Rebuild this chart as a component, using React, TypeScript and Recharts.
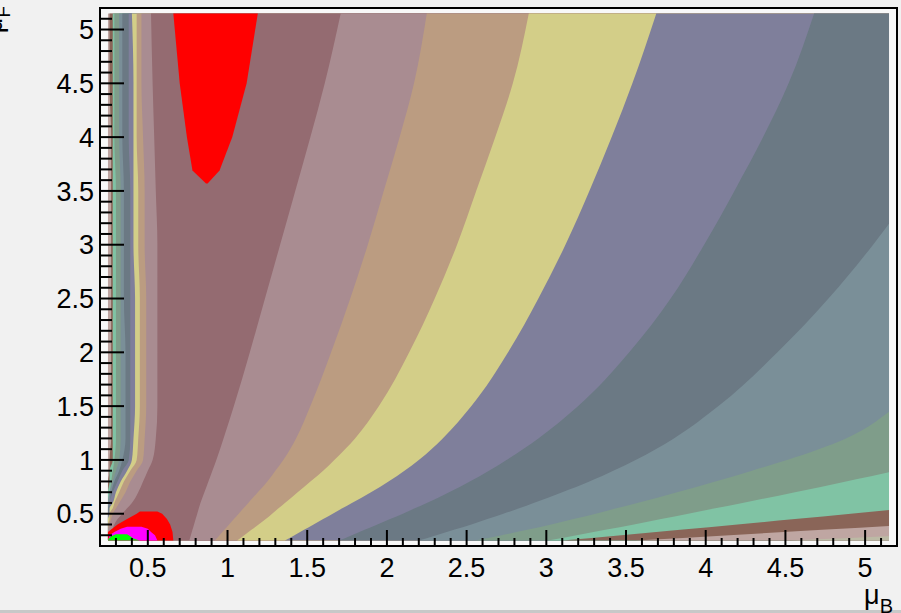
import { ComposedChart, Area, XAxis, YAxis, CartesianGrid, ReferenceArea } from "recharts";

// contour level heights (mu_F) at which the band edges were read
const yLevels = [0.25, 0.3, 0.35, 0.4, 0.45, 0.5, 0.55, 0.6, 0.7, 0.8, 0.9, 1.0, 1.2, 1.5, 2.0, 2.5, 3.0, 3.5, 4.0, 4.5, 5.15];

// edges hugging the left wall (outermost first)
const left10 = [0.25, 0.25, 0.25, 0.25, 0.25, 0.25, 0.25, 0.25, 0.25, 0.25, 0.26, 0.26, 0.27, 0.27, 0.27, 0.27, 0.27, 0.27, 0.27, 0.26, 0.26];
const left9 = [0.25, 0.25, 0.25, 0.25, 0.25, 0.25, 0.25, 0.25, 0.25, 0.26, 0.26, 0.28, 0.28, 0.28, 0.28, 0.28, 0.28, 0.28, 0.28, 0.28, 0.28];
const left8 = [0.25, 0.25, 0.25, 0.25, 0.25, 0.25, 0.25, 0.25, 0.26, 0.27, 0.28, 0.29, 0.3, 0.3, 0.3, 0.3, 0.3, 0.3, 0.29, 0.29, 0.29];
const left7 = [0.25, 0.25, 0.25, 0.25, 0.25, 0.25, 0.25, 0.25, 0.26, 0.28, 0.3, 0.32, 0.33, 0.33, 0.33, 0.33, 0.33, 0.33, 0.32, 0.32, 0.32];
const left6 = [0.25, 0.25, 0.25, 0.25, 0.25, 0.25, 0.25, 0.26, 0.27, 0.29, 0.32, 0.34, 0.36, 0.36, 0.36, 0.35, 0.35, 0.35, 0.34, 0.34, 0.34];
const left5 = [0.25, 0.25, 0.25, 0.25, 0.25, 0.25, 0.26, 0.26, 0.28, 0.31, 0.34, 0.38, 0.39, 0.39, 0.39, 0.39, 0.39, 0.39, 0.38, 0.38, 0.38];
const left4 = [0.25, 0.25, 0.25, 0.25, 0.25, 0.26, 0.26, 0.28, 0.3, 0.33, 0.37, 0.4, 0.41, 0.42, 0.42, 0.42, 0.41, 0.41, 0.41, 0.41, 0.4];
const left3 = [0.25, 0.25, 0.25, 0.25, 0.26, 0.26, 0.28, 0.29, 0.32, 0.35, 0.39, 0.43, 0.44, 0.45, 0.45, 0.45, 0.44, 0.44, 0.43, 0.43, 0.43];
const left2 = [0.25, 0.25, 0.25, 0.26, 0.27, 0.28, 0.3, 0.32, 0.36, 0.39, 0.43, 0.47, 0.48, 0.49, 0.49, 0.49, 0.48, 0.48, 0.47, 0.46, 0.46];
const left1 = [0.28, 0.28, 0.28, 0.29, 0.31, 0.34, 0.37, 0.4, 0.44, 0.47, 0.5, 0.53, 0.55, 0.56, 0.56, 0.56, 0.56, 0.55, 0.54, 0.53, 0.52];

// edges fanning out to the right (values past 5.15 run off the frame)
const right1 = [0.76, 0.77, 0.78, 0.79, 0.8, 0.81, 0.82, 0.83, 0.855, 0.88, 0.905, 0.93, 0.975, 1.04, 1.14, 1.235, 1.33, 1.425, 1.52, 1.61, 1.71];
const right2 = [0.92, 0.95, 0.98, 1.01, 1.04, 1.07, 1.1, 1.13, 1.19, 1.25, 1.3, 1.35, 1.43, 1.52, 1.65, 1.77, 1.88, 1.98, 2.08, 2.17, 2.25];
const right3 = [1.06, 1.105, 1.15, 1.195, 1.24, 1.28, 1.32, 1.36, 1.44, 1.52, 1.6, 1.67, 1.8, 1.95, 2.14, 2.3, 2.44, 2.56, 2.68, 2.79, 2.89];
const right4 = [1.36, 1.42, 1.48, 1.54, 1.6, 1.66, 1.72, 1.78, 1.9, 2.01, 2.11, 2.2, 2.35, 2.53, 2.76, 2.95, 3.12, 3.27, 3.41, 3.54, 3.69];
const right5 = [1.7, 1.78, 1.86, 1.94, 2.02, 2.1, 2.175, 2.25, 2.39, 2.52, 2.64, 2.75, 2.95, 3.2, 3.52, 3.78, 3.99, 4.18, 4.36, 4.52, 4.68];
const right6 = [2.2, 2.31, 2.42, 2.53, 2.63, 2.73, 2.83, 2.92, 3.1, 3.27, 3.42, 3.56, 3.8, 4.08, 4.45, 4.77, 5.05, 5.3, 5.53, 5.75, 6.0];
const right7 = [2.55, 2.72, 2.88, 3.03, 3.17, 3.31, 3.44, 3.57, 3.82, 4.06, 4.29, 4.51, 4.88, 5.2, 5.6, 5.95, 6.25, 6.5, 6.75, 7.0, 7.3];
const right8 = [3.01, 3.19, 3.37, 3.55, 3.72, 3.89, 4.06, 4.23, 4.56, 4.88, 5.19, 5.48, 5.98, 6.5, 7.2, 7.8, 8.3, 8.8, 9.2, 9.6, 10.0];
const right9 = [3.1, 3.47, 3.84, 4.2, 4.56, 4.91, 5.26, 5.6, 6.25, 6.9, 7.5, 8.1, 9.2, 10.5, 12, 13, 14, 15, 16, 17, 18];
const right10 = [3.56, 4.15, 4.73, 5.3, 5.85, 6.4, 6.9, 7.4, 8.4, 9.3, 10.2, 11, 12.5, 14.5, 17, 19, 21, 23, 25, 27, 29];
const right11 = [4.53, 5.28, 6.0, 6.7, 7.4, 8.1, 8.8, 9.5, 10.8, 12, 13.2, 14.4, 16.5, 19, 22, 25, 28, 30, 32, 34, 36];

// closed islands
const peakY = [3.57, 3.69, 4.0, 4.5, 5.15];
const peakLeft = [0.865, 0.78, 0.745, 0.7, 0.66];
const peakRight = [0.875, 0.95, 1.03, 1.12, 1.19];

const cornerY = [0.25, 0.33, 0.4, 0.45, 0.5, 0.52];
const cornerLeft = [0.25, 0.25, 0.31, 0.37, 0.43, 0.45];
const cornerRight = [0.66, 0.655, 0.64, 0.62, 0.59, 0.56];

const magY = [0.25, 0.3, 0.33, 0.36, 0.38];
const magLeft = [0.25, 0.26, 0.29, 0.33, 0.37];
const magRight = [0.56, 0.545, 0.52, 0.5, 0.46];

const grnY = [0.25, 0.27, 0.29, 0.31];
const grnLeft = [0.25, 0.255, 0.27, 0.3];
const grnRight = [0.45, 0.41, 0.39, 0.37];

const axisTicks = Array.from({ length: 51 }, (_, i) => Math.round((0.2 + i * 0.1) * 10) / 10);
const tickLabels = ["0.5", "1", "1.5", "2", "2.5", "3", "3.5", "4", "4.5", "5"];

const X_MIN = 0.25;
const X_MAX = 5.15;
const X_FAR = 40;

const col = {
  darkMauve: "#946b71",
  lightMauve: "#a98c91",
  tan: "#bb9c81",
  yellow: "#d3ce88",
  bluePurple: "#7f7f9b",
  slate: "#6b7984",
  blueGrey: "#7a8f98",
  greenGrey: "#7f9d8a",
  mint: "#80c3a4",
  brown: "#8a6558",
  lightPink: "#bfa6a2",
  beige: "#bcbaa5",
};

const wall = yLevels.map(() => X_MIN);

// painted left to right, each band covers everything right of its edge
const bands = [
  { key: "b0", edge: wall, color: col.lightPink },
  { key: "b1", edge: left10, color: col.brown },
  { key: "b2", edge: left9, color: col.mint },
  { key: "b3", edge: left8, color: col.greenGrey },
  { key: "b4", edge: left7, color: col.blueGrey },
  { key: "b5", edge: left6, color: col.slate },
  { key: "b6", edge: left5, color: col.bluePurple },
  { key: "b7", edge: left4, color: col.yellow },
  { key: "b8", edge: left3, color: col.tan },
  { key: "b9", edge: left2, color: col.lightMauve },
  { key: "b10", edge: left1, color: col.darkMauve },
  { key: "b11", edge: right1, color: col.lightMauve },
  { key: "b12", edge: right2, color: col.tan },
  { key: "b13", edge: right3, color: col.yellow },
  { key: "b14", edge: right4, color: col.bluePurple },
  { key: "b15", edge: right5, color: col.slate },
  { key: "b16", edge: right6, color: col.blueGrey },
  { key: "b17", edge: right7, color: col.greenGrey },
  { key: "b18", edge: right8, color: col.mint },
  { key: "b19", edge: right9, color: col.brown },
  { key: "b20", edge: right10, color: col.lightPink },
  { key: "b21", edge: right11, color: col.beige },
];

const data = yLevels.map((y, i) => {
  const row: any = { y };
  bands.forEach((b) => {
    row[b.key] = [b.edge[i], X_FAR];
  });
  return row;
});

const island = (ys: number[], lo: number[], hi: number[]) =>
  ys.map((y, i) => ({ y, v: [lo[i], hi[i]] }));

const peakData = island(peakY, peakLeft, peakRight);
const cornerData = island(cornerY, cornerLeft, cornerRight);
const magData = island(magY, magLeft, magRight);
const grnData = island(grnY, grnLeft, grnRight);

const FONT = "Liberation Sans, Arial, sans-serif";
const PAD_BG = "#f8f8f8";

const isMajor = (v: number) => Math.round(v * 10) % 5 === 0;

const YTick = (props: any) => {
  const { x, y, payload } = props;
  const v = payload.value;
  const major = isMajor(v);
  return (
    <g>
      <line x1={x} x2={x + (major ? 24 : 12)} y1={y} y2={y} stroke="#000" strokeWidth={2} />
      {major && (
        <text x={x - 6} y={y} dy="0.36em" textAnchor="end" fontSize={27} fontFamily={FONT} fill="#000">
          {tickLabels[Math.round(v * 2) - 1]}
        </text>
      )}
    </g>
  );
};

const XTick = (props: any) => {
  const { x, y, payload } = props;
  const v = payload.value;
  const major = isMajor(v);
  return (
    <g>
      <line x1={x} x2={x} y1={y} y2={y - (major ? 16 : 8)} stroke="#000" strokeWidth={2} />
      {major && (
        <text x={x} y={y + 31} textAnchor="middle" fontSize={27} fontFamily={FONT} fill="#000">
          {tickLabels[Math.round(v * 2) - 1]}
        </text>
      )}
    </g>
  );
};

const XTitle = (props: any) => {
  const vb = props.viewBox || { x: 100, width: 797 };
  return (
    <text x={vb.x + vb.width - 4} y={604} textAnchor="end" fontSize={27} fontFamily={FONT} fill="#000">
      {"\u03bc"}
      <tspan dy={9} fontSize={20}>B</tspan>
    </text>
  );
};

const YTitle = () => (
  <text transform="translate(2,6) rotate(-90)" textAnchor="end" fontSize={27} fontFamily={FONT} fill="#000">
    {"\u03bc"}
    <tspan dy={8} fontSize={19}>F</tspan>
  </text>
);

export default function App() {
  return (
    <div style={{ position: "absolute", left: 0, top: 0, width: 901, height: 613, background: "#f1f1f1", fontFamily: FONT }}>
      <div style={{ position: "absolute", left: 0, top: 610, width: 901, height: 3, background: "#c8c8c8" }} />
      <div style={{ position: "absolute", left: 0, top: 0 }}>
        <ComposedChart
          width={901}
          height={613}
          data={data}
          layout="vertical"
          margin={{ top: 8, right: 4, bottom: 0, left: 0 }}
        >
          <CartesianGrid horizontal={false} vertical={false} fill={PAD_BG} />
          {bands.map((b) => (
            <Area
              key={b.key}
              type="monotone"
              dataKey={b.key}
              fill={b.color}
              fillOpacity={1}
              stroke="none"
              dot={false}
              activeDot={false}
              isAnimationActive={false}
            />
          ))}
          <Area data={peakData} type="linear" dataKey="v" fill="#ff0000" fillOpacity={1} stroke="none" dot={false} activeDot={false} isAnimationActive={false} />
          <Area data={cornerData} type="linear" dataKey="v" fill="#ff0000" fillOpacity={1} stroke="none" dot={false} activeDot={false} isAnimationActive={false} />
          <Area data={magData} type="linear" dataKey="v" fill="#ff00ff" fillOpacity={1} stroke="none" dot={false} activeDot={false} isAnimationActive={false} />
          <Area data={grnData} type="linear" dataKey="v" fill="#00ff00" fillOpacity={1} stroke="none" dot={false} activeDot={false} isAnimationActive={false} />
          <ReferenceArea x1={X_MAX} x2={5.2} y1={0.2} y2={5.2} fill={PAD_BG} fillOpacity={1} stroke="none" />
          <ReferenceArea x1={0.2} x2={5.2} y1={0.2} y2={5.2} fill="none" stroke="#000" strokeWidth={2} />
          <XAxis
            type="number"
            dataKey="v"
            domain={[0.2, 5.2]}
            allowDataOverflow
            ticks={axisTicks}
            interval={0}
            tick={<XTick />}
            tickSize={0}
            tickMargin={0}
            tickLine={false}
            axisLine={false}
            height={67}
            label={<XTitle />}
          />
          <YAxis
            type="number"
            dataKey="y"
            reversed
            domain={[0.2, 5.2]}
            allowDataOverflow
            ticks={axisTicks}
            interval={0}
            tick={<YTick />}
            tickSize={0}
            tickMargin={0}
            tickLine={false}
            axisLine={false}
            width={100}
            label={<YTitle />}
          />
        </ComposedChart>
      </div>
    </div>
  );
}
